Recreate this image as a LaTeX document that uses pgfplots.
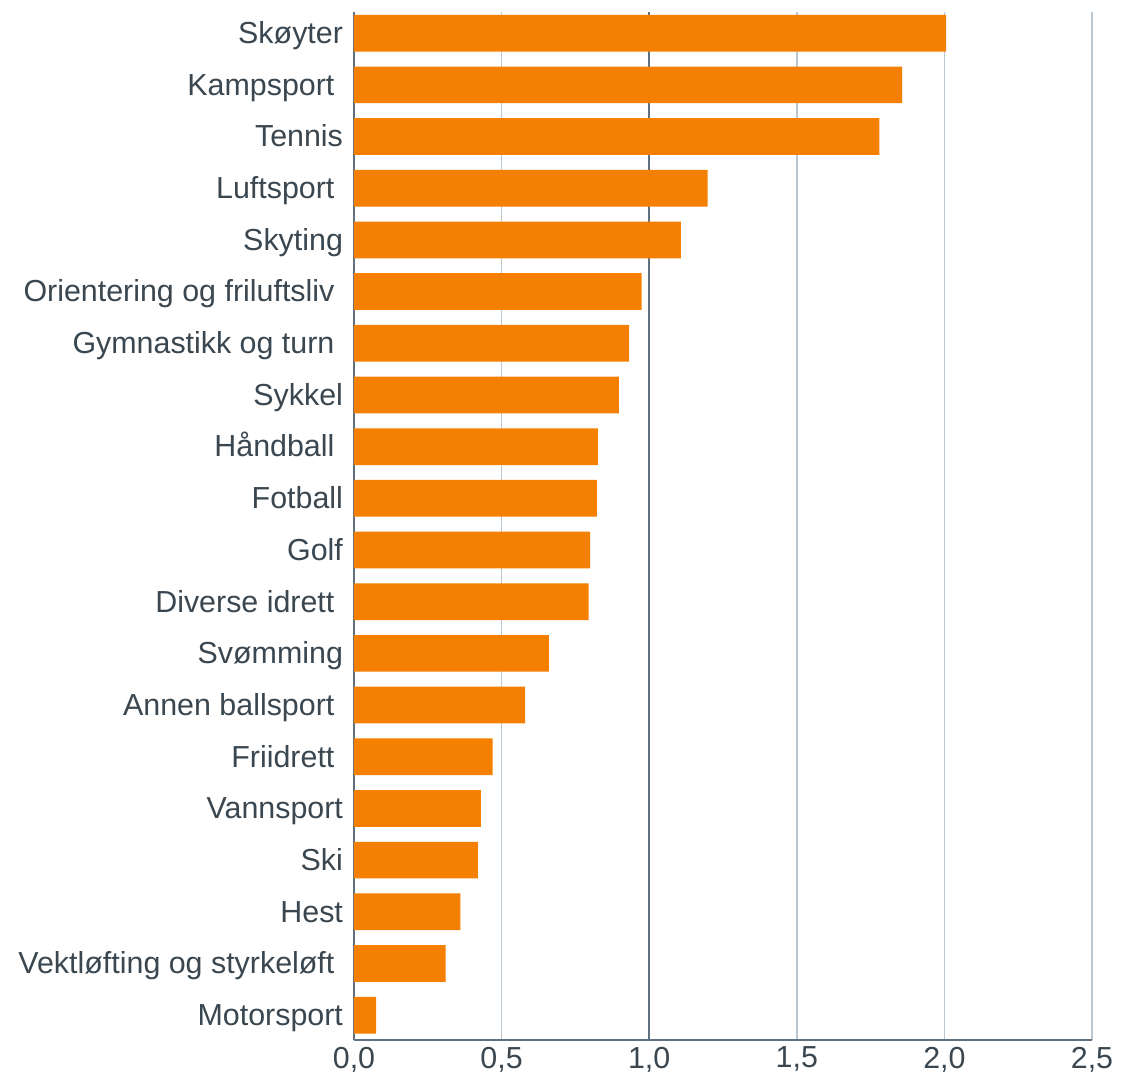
\documentclass[border=0pt]{standalone}
\usepackage{fontspec}
\setmainfont{Liberation Sans}
\usepackage{pgfplots}
\pgfplotsset{compat=1.18}
\definecolor{barorange}{RGB}{245,127,0}
\definecolor{txt}{RGB}{58,71,80}
\definecolor{gridc}{RGB}{186,198,208}
\definecolor{axc}{RGB}{95,113,128}
\newcommand{\tsp}{\kern0.28em}
\begin{document}
\begin{tikzpicture}
\useasboundingbox (-177pt,-20pt) rectangle (392pt,520pt);
\begin{axis}[
  scale only axis,
  width=369pt, height=514pt,
  xbar, bar width=18.35pt,
  xmin=0, xmax=2.5,
  ymin=-0.48, ymax=19.41,
  xtick={0,0.5,1,1.5,2,2.5},
  ytick={0,...,19},
  yticklabels={Motorsport,{Vektløfting og styrkeløft\tsp},Hest,Ski,Vannsport,{Friidrett\tsp},{Annen ballsport\tsp},Svømming,{Diverse idrett\tsp},Golf,Fotball,{Håndball\tsp},Sykkel,{Gymnastikk og turn\tsp},{Orientering og friluftsliv\tsp},Skyting,{Luftsport\tsp},Tennis,{Kampsport\tsp},Skøyter},
  axis lines*=left,
  axis line style={-, draw=axc, line width=1.2pt},
  major tick length=0pt,
  xmajorgrids,
  grid style={draw=gridc, line width=0.7pt},
  extra x ticks={1},
  extra x tick labels={},
  extra x tick style={grid style={draw=axc, line width=1.2pt}},
  tick label style={font=\fontsize{15.2}{18}\selectfont, text=txt},
  xticklabel style={yshift=0pt},
  yticklabel style={xshift=-2pt, yshift=-1.5pt, anchor=east, text height=0.95em, text depth=0.22em},
  /pgf/number format/.cd, use comma, fixed, fixed zerofill, precision=1, assume math mode=true,
]
\addplot[fill=barorange, draw=none] coordinates {
(0.075,0) (0.31,1) (0.36,2) (0.42,3) (0.43,4) (0.47,5) (0.58,6) (0.66,7) (0.795,8) (0.80,9)
(0.823,10) (0.826,11) (0.897,12) (0.932,13) (0.974,14) (1.107,15) (1.198,16) (1.78,17) (1.857,18) (2.006,19)
};
\end{axis}
\end{tikzpicture}
\end{document}
